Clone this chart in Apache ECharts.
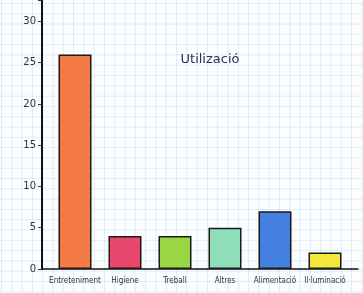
<!DOCTYPE html>
<html><head><meta charset="utf-8">
<script src="https://cdn.jsdelivr.net/npm/echarts@6/dist/echarts.min.js"></script>
<style>
html,body{margin:0;padding:0;}
#c{width:363px;height:293px;
background-color:#fcfdfe;
background-image:linear-gradient(to right, rgba(170,205,228,0.35) 1px, transparent 1px),linear-gradient(to bottom, rgba(170,205,228,0.35) 1px, transparent 1px);
background-size:10.3px 10.3px;background-position:1px 3px;}
</style></head>
<body><div id="c"></div>
<script>
const titleText = 'Utilizació';
const categories = ['Entreteniment','Higiene','Treball','Altres','Alimentació','Il·luminació'];
const values = [26, 4, 4, 5, 7, 2];
const barColors = ['#f47a45','#e8486c','#9ad642','#8fe0b8','#4480e0','#f4e83c'];
const yTicks = [0,5,10,15,20,25,30];

const chart = echarts.init(document.getElementById('c'), null, {renderer:'canvas'});
chart.setOption({
  backgroundColor:'transparent',
  animation:false,
  title:{text:titleText,left:205,top:48,textAlign:'center',
    textStyle:{fontFamily:'DejaVu Sans',fontWeight:'normal',fontSize:13,color:'#2a2f55'}},
  grid:[{left:50,right:13,top:0,bottom:24},{left:42,right:5,top:0,bottom:24}],
  xAxis:[{type:'category',gridIndex:0,data:categories,
    axisLine:{show:false},axisTick:{show:false},
    axisLabel:{interval:0,fontFamily:'"DejaVu Sans Condensed", "Liberation Sans", sans-serif',fontSize:8,color:'#333',margin:8}},
    {type:'value',gridIndex:1,min:0,max:1,axisLine:{show:true,lineStyle:{color:'#111',width:1.5}},
     axisTick:{show:false},axisLabel:{show:false},splitLine:{show:false}}],
  yAxis:[{type:'value',gridIndex:0,min:0,max:32.6,interval:5,offset:8,
    axisLine:{show:true,lineStyle:{color:'#111',width:2}},
    axisTick:{show:true,length:4,lineStyle:{color:'#333'}},
    splitLine:{show:false},
    axisLabel:{fontFamily:'DejaVu Sans',fontSize:10,color:'#333',margin:6,
      formatter:v=>yTicks.includes(v)?String(v):''}},
    {type:'value',gridIndex:1,show:false,min:0,max:1}],
  series:[{type:'bar',xAxisIndex:0,yAxisIndex:0,barWidth:33,
    data:values.map((v,i)=>({value:v,itemStyle:{color:barColors[i]}})),
    itemStyle:{borderColor:'#1a1a1a',borderWidth:1.5}}]
});
</script></body></html>
